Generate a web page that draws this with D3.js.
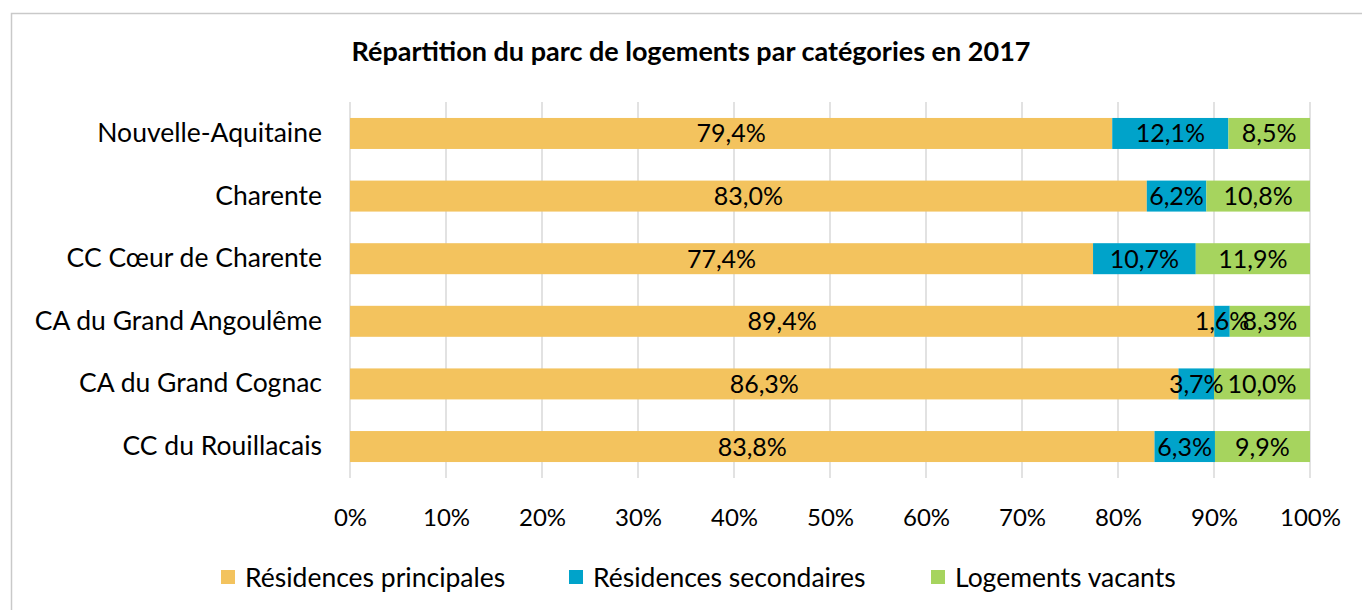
<!DOCTYPE html>
<html>
<head>
<meta charset="utf-8">
<script src="https://cdn.jsdelivr.net/npm/d3@7"></script>
<style>
  body { margin: 0; background: #fff; }
  svg text { font-family: Lato, "Open Sans", sans-serif; }
</style>
</head>
<body>
<div id="chart"></div>
<script>
// data
var categories = ["Nouvelle-Aquitaine", "Charente", "CC Cœur de Charente", "CA du Grand Angoulême", "CA du Grand Cognac", "CC du Rouillacais"];
var seriesNames = ["Résidences principales", "Résidences secondaires", "Logements vacants"];
var principales = [79.4, 83.0, 77.4, 89.4, 86.3, 83.8];
var secondaires = [12.1, 6.2, 10.7, 1.6, 3.7, 6.3];
var vacants = [8.5, 10.8, 11.9, 8.3, 10.0, 9.9];
var tickValues = [0, 0.1, 0.2, 0.3, 0.4, 0.5, 0.6, 0.7, 0.8, 0.9, 1];
var colors = ["#F3C35E", "#00A3CA", "#A6D45E"];

var width = 1362, height = 610;
var margin = {top: 102, right: 52, bottom: 132, left: 350};
var width_g = width - margin.left - margin.right,
    height_g = height - margin.top - margin.bottom;

var svg = d3.select("#chart").append("svg")
    .attr("width", width)
    .attr("height", height);

// outer frame
svg.append("rect")
    .attr("x", 11.5).attr("y", 13.5)
    .attr("width", width).attr("height", height)
    .attr("fill", "none")
    .attr("stroke", "#c9c9c9")
    .attr("stroke-width", 1.5);

svg.append("text")
    .attr("x", 691).attr("y", 61)
    .attr("text-anchor", "middle")
    .attr("font-size", 27)
    .attr("font-weight", "bold")
    .text("Répartition du parc de logements par catégories en 2017");

var x = d3.scaleLinear().domain([0, 1]).range([0, width_g]);
var y = d3.scaleBand().domain(categories).range([0, height_g]).paddingInner(0.505).paddingOuter(0.255);

var g = svg.append("g").attr("transform", "translate(" + margin.left + "," + margin.top + ")");

// gridlines
g.append("g").selectAll("line")
    .data(tickValues)
    .enter().append("line")
    .attr("x1", function(d) { return x(d); })
    .attr("x2", function(d) { return x(d); })
    .attr("y1", 0).attr("y2", height_g)
    .attr("stroke", "#d9d9d9")
    .attr("stroke-width", 1.5);

// stack (normalized to 100%)
var rows = categories.map(function(c, i) {
    return {cat: c, vals: [principales[i], secondaires[i], vacants[i]]};
});
var segs = [];
rows.forEach(function(r) {
    var tot = d3.sum(r.vals), acc = 0;
    r.vals.forEach(function(v, k) {
        segs.push({cat: r.cat, k: k, v: v, x0: acc / tot, x1: (acc + v) / tot});
        acc += v;
    });
});

g.append("g").selectAll("rect")
    .data(segs)
    .enter().append("rect")
    .attr("x", function(d) { return x(d.x0); })
    .attr("width", function(d) { return x(d.x1) - x(d.x0); })
    .attr("y", function(d) { return y(d.cat); })
    .attr("height", y.bandwidth())
    .attr("fill", function(d) { return colors[d.k]; });

g.append("g").selectAll("text")
    .data(segs)
    .enter().append("text")
    .attr("x", function(d) { return (x(d.x0) + x(d.x1)) / 2; })
    .attr("y", function(d) { return y(d.cat) + y.bandwidth() / 2; })
    .attr("dy", "0.36em")
    .attr("text-anchor", "middle")
    .attr("font-size", 25)
    .attr("fill", "#000")
    .text(function(d) { return d.v.toFixed(1).replace(".", ",") + "%"; });

// y labels
var yAxis = d3.axisLeft(y).tickSize(0).tickPadding(28);
g.append("g").call(yAxis)
    .call(function(s) { s.select(".domain").remove(); })
    .selectAll("text")
    .attr("font-size", 26.5)
    .attr("fill", "#000");

// x axis
var xAxis = d3.axisBottom(x).tickValues(tickValues).tickSize(0).tickPadding(31)
    .tickFormat(function(d) { return Math.round(d * 100) + "%"; });
g.append("g").attr("transform", "translate(0," + height_g + ")").call(xAxis)
    .call(function(s) { s.select(".domain").remove(); })
    .selectAll("text")
    .attr("font-size", 24)
    .attr("fill", "#000");

// legend
var legendX = [221, 569, 931];
var legend = svg.append("g").selectAll("g")
    .data(seriesNames)
    .enter().append("g")
    .attr("transform", function(d, i) { return "translate(" + legendX[i] + ",570)"; });
legend.append("rect")
    .attr("width", 14).attr("height", 14)
    .attr("fill", function(d, i) { return colors[i]; });
legend.append("text")
    .attr("x", 24).attr("y", 7)
    .attr("dy", "0.36em")
    .attr("font-size", 26.5)
    .text(function(d) { return d; });
</script>
</body>
</html>
